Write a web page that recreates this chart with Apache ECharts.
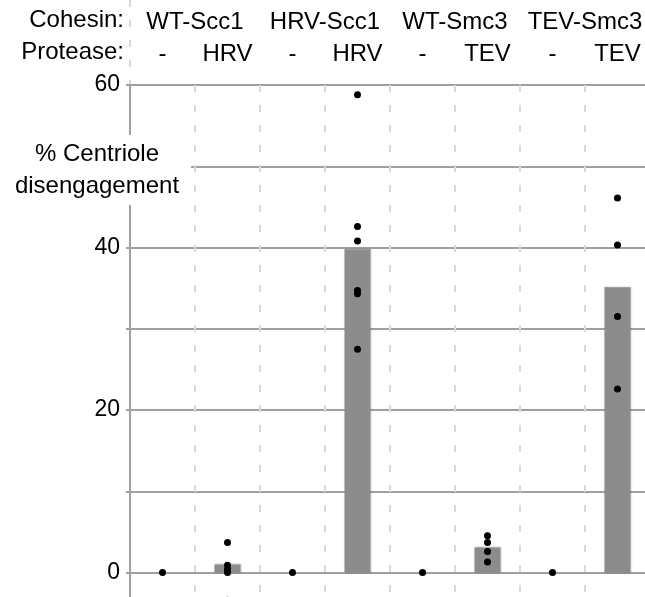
<!DOCTYPE html>
<html><head><meta charset="utf-8">
<script src="https://cdn.jsdelivr.net/npm/echarts@6/dist/echarts.min.js"></script>
<style>html,body{margin:0;padding:0;background:#fff}#c{width:645px;height:597px}</style>
</head><body><div id="c"></div>
<script>
const cohesinLabels = ['WT-Scc1', 'HRV-Scc1', 'WT-Smc3', 'TEV-Smc3'];
const proteaseLabels = ['-', 'HRV', '-', 'HRV', '-', 'TEV', '-', 'TEV'];
const conditionIds = ['WT-Scc1 -', 'WT-Scc1 HRV', 'HRV-Scc1 -', 'HRV-Scc1 HRV', 'WT-Smc3 -', 'WT-Smc3 TEV', 'TEV-Smc3 -', 'TEV-Smc3 TEV'];
const meanValues = [0, 1.0, 0, 39.8, 0, 3.1, 0, 35.1];
const replicateValues = [
  [0],
  [3.7, 0.9, 0.4, 0, -3.4],
  [0],
  [58.8, 42.6, 40.8, 34.7, 34.3, 27.5],
  [0],
  [4.55, 3.7, 2.6, 1.3],
  [0],
  [46.1, 40.3, 31.5, 22.6]
];
const yTickLabels = [0, 20, 40, 60];
const yGridValues = [0, 10, 20, 30, 40, 50, 60];
const yAxisTitle = '% Centriole\ndisengagement';

const FONT = 'Liberation Sans, Arial, sans-serif';
const points = [];
replicateValues.forEach((vals, i) => vals.forEach(v => points.push([i, v])));

const chart = echarts.init(document.getElementById('c'), null, {renderer: 'canvas'});
chart.setOption({
  animation: false,
  backgroundColor: '#fff',
  textStyle: {fontFamily: FONT},
  grid: [
    {left: 130, width: 520, top: 85, height: 512, outerBoundsMode: 'none', containLabel: false},
    {left: 130, width: 520, top: 0, height: 85, outerBoundsMode: 'none', containLabel: false}
  ],
  xAxis: [
    {
      gridIndex: 0, type: 'category', data: conditionIds, position: 'bottom',
      axisLine: {show: true, onZero: true, lineStyle: {color: '#a0a0a0', width: 2}},
      axisTick: {show: false}, axisLabel: {show: false},
      splitLine: {show: true, interval: 0, lineStyle: {color: '#d9d9d9', width: 2, type: [7, 13]}}
    },
    {
      gridIndex: 0, type: 'category', data: proteaseLabels, position: 'top', offset: 33,
      axisLine: {show: false, onZero: false}, axisTick: {show: false},
      axisLabel: {margin: -14, fontSize: 24, color: '#000', fontFamily: FONT, interval: 0},
      splitLine: {show: false},
      name: 'Protease:', nameLocation: 'start', nameGap: 6,
      nameTextStyle: {fontSize: 24, color: '#000', fontFamily: FONT, padding: [4, 0, 0, 0]}
    },
    {
      gridIndex: 0, type: 'category', data: cohesinLabels, position: 'top', offset: 65,
      axisLine: {show: false, onZero: false}, axisTick: {show: false},
      axisLabel: {margin: -14, fontSize: 24, color: '#000', fontFamily: FONT, interval: 0},
      splitLine: {show: false},
      name: 'Cohesin:', nameLocation: 'start', nameGap: 6,
      nameTextStyle: {fontSize: 24, color: '#000', fontFamily: FONT, padding: [4, 0, 0, 0]}
    },
    {
      gridIndex: 1, type: 'category', data: conditionIds,
      axisLine: {show: false, onZero: false}, axisTick: {show: false}, axisLabel: {show: false},
      splitLine: {show: true, interval: (idx) => idx === 4, lineStyle: {color: '#d9d9d9', width: 2, type: [7, 13]}}
    }
  ],
  yAxis: [
    {
      gridIndex: 0, type: 'value', min: -3, max: 60,
      axisLine: {show: true, lineStyle: {color: '#a0a0a0', width: 2}},
      axisTick: {show: true, length: 4, customValues: yGridValues, lineStyle: {color: '#a0a0a0', width: 2}},
      axisLabel: {customValues: yTickLabels, fontSize: 23, color: '#000', margin: 10, fontFamily: FONT},
      splitLine: {show: true, lineStyle: {color: '#a0a0a0', width: 2}}
    },
    {gridIndex: 1, type: 'value', show: false}
  ],
  graphic: [{
    type: 'text', x: 97, y: 135, z: 100,
    style: {
      text: yAxisTitle, font: '24px ' + FONT, fill: '#000', align: 'center', verticalAlign: 'top',
      lineHeight: 32, backgroundColor: '#fff', padding: [3, 12]
    }
  }],
  series: [
    {
      type: 'bar', xAxisIndex: 0, yAxisIndex: 0, data: meanValues, barWidth: 26,
      itemStyle: {color: '#8c8c8c', shadowBlur: 2, shadowColor: 'rgba(0,0,0,0.25)'}, z: 2
    },
    {
      type: 'scatter', xAxisIndex: 0, yAxisIndex: 0, data: points, symbolSize: 7,
      itemStyle: {color: '#000', opacity: 1}, clip: false, z: 3
    }
  ]
});
</script></body></html>
